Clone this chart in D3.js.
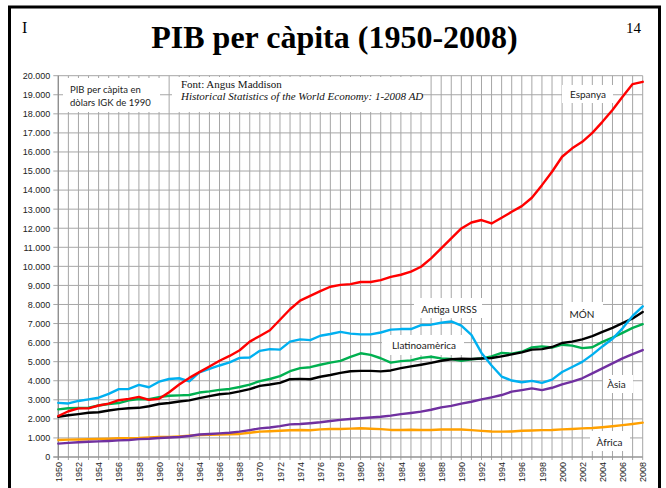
<!DOCTYPE html>
<html><head><meta charset="utf-8">
<script src="https://cdn.jsdelivr.net/npm/d3@7"></script>
<style>
html,body{margin:0;padding:0;background:#fff;}
svg{display:block;}
</style></head>
<body>
<svg id="c" width="666" height="488"></svg>
<script>
const years = d3.range(1950, 2009);
const yTicks = d3.range(0, 20001, 1000);
const xLabelYears = d3.range(1950, 2009, 2);

const espanya = [2150,2400,2550,2550,2700,2800,2980,3050,3150,3000,
 3050,3400,3800,4150,4450,4750,5050,5300,5600,6050,
 6350,6650,7200,7750,8200,8450,8700,8930,9030,9070,
 9180,9180,9280,9450,9560,9720,9980,10420,10940,11470,
 11990,12300,12430,12250,12550,12860,13160,13600,14260,14960,
 15750,16190,16530,17000,17580,18200,18900,19560,19680];
const urss = [2840,2810,2940,3020,3110,3310,3560,3570,3780,3660,
 3950,4090,4130,3970,4440,4620,4800,4960,5200,5220,
 5570,5660,5630,6050,6170,6130,6360,6450,6560,6470,
 6430,6430,6530,6680,6710,6710,6920,6940,7040,7110,
 6890,6410,5460,4800,4220,4010,3920,3990,3890,4060,
 4460,4720,4990,5370,5800,6200,6750,7400,7900];
const mon = [2110,2190,2250,2320,2350,2440,2510,2560,2580,2660,
 2780,2830,2910,2970,3090,3190,3290,3340,3440,3560,
 3730,3800,3890,4080,4100,4080,4210,4300,4410,4500,
 4520,4520,4490,4540,4660,4750,4840,4940,5050,5130,
 5150,5140,5170,5190,5280,5380,5490,5630,5660,5770,
 5980,6050,6170,6340,6560,6770,7020,7270,7610];
const llatinoamerica = [2500,2560,2570,2590,2700,2780,2830,2970,3040,3030,
 3140,3210,3230,3250,3380,3440,3520,3570,3670,3800,
 3980,4090,4240,4500,4660,4710,4840,4950,5040,5250,
 5440,5360,5180,4950,5030,5070,5200,5260,5170,5140,
 5050,5130,5170,5280,5460,5420,5520,5750,5800,5740,
 5890,5840,5710,5760,6040,6260,6510,6770,6970];
const asia = [700,740,770,800,820,840,870,890,940,960,
 1000,1020,1050,1100,1180,1210,1240,1270,1330,1410,
 1500,1550,1620,1710,1730,1770,1820,1890,1950,1990,
 2030,2070,2110,2170,2250,2310,2380,2480,2600,2680,
 2800,2900,3020,3130,3250,3430,3510,3600,3510,3630,
 3810,3950,4130,4390,4650,4910,5170,5400,5610];
const africa = [890,910,920,930,950,960,980,990,1000,1030,
 1050,1050,1080,1120,1150,1170,1180,1190,1210,1270,
 1330,1350,1380,1400,1420,1400,1450,1470,1470,1490,
 1510,1480,1460,1420,1420,1430,1420,1420,1440,1450,
 1440,1410,1370,1340,1330,1340,1380,1390,1410,1420,
 1450,1470,1500,1520,1560,1610,1670,1730,1800];

const seriesNames = ["Espanya","Antiga URSS","MÓN","Llatinoamèrica","Àsia","Àfrica"];
const seriesValues = [espanya, urss, mon, llatinoamerica, asia, africa];
const seriesColors = ["#ff0000","#00b0f0","#000000","#00b050","#7030a0","#ffa000"];

const svg = d3.select("#c");
const x = d3.scaleLinear().domain([1950, 2008]).range([58.3, 642.7]);
const y = d3.scaleLinear().domain([0, 20000]).range([457, 75.7]);

// border
svg.append("rect").attr("x", 9.5).attr("y", 7).attr("width", 650).attr("height", 500)
  .attr("fill", "#fff").attr("stroke", "#000").attr("stroke-width", 3);

// title and corner marks
svg.append("text").attr("x", 334.5).attr("y", 48).attr("text-anchor", "middle")
  .attr("font-family", "Liberation Serif, serif").attr("font-weight", "bold")
  .attr("font-size", 32).text("PIB per càpita (1950-2008)");
svg.append("text").attr("x", 22).attr("y", 33).attr("font-family", "Liberation Serif, serif")
  .attr("font-size", 16).text("I");
svg.append("text").attr("x", 641).attr("y", 33).attr("text-anchor", "end")
  .attr("font-family", "Liberation Serif, serif").attr("font-size", 15).text("14");

// grid
const grid = svg.append("g");
grid.selectAll("line.v").data(years).join("line")
  .attr("x1", d => x(d)).attr("x2", d => x(d))
  .attr("y1", y(20000)).attr("y2", y(0) + 3)
  .attr("stroke", "#a6a6a6").attr("stroke-width", 1);
grid.selectAll("line.h").data(yTicks).join("line")
  .attr("x1", x(1950) - 5).attr("x2", x(2008))
  .attr("y1", d => y(d)).attr("y2", d => y(d))
  .attr("stroke", "#a6a6a6").attr("stroke-width", 1);
svg.append("line").attr("x1", x(1950)).attr("x2", x(1950)).attr("y1", y(20000)).attr("y2", y(0) + 3)
  .attr("stroke", "#8c8c8c").attr("stroke-width", 1.2);
svg.append("line").attr("x1", x(1950) - 5).attr("x2", x(2008)).attr("y1", y(0)).attr("y2", y(0))
  .attr("stroke", "#8c8c8c").attr("stroke-width", 1.2);

// axes labels
const loc = d3.formatLocale({decimal: ",", thousands: ".", grouping: [3], currency: ["", ""]});
const fmt = loc.format(",");
const yAxis = d3.axisLeft(y).tickValues(yTicks).tickFormat(fmt).tickSize(0).tickPadding(8);
const ya = svg.append("g").attr("transform", `translate(${x(1950)},0)`).call(yAxis);
ya.select(".domain").remove();
ya.selectAll("text").attr("font-family", "Liberation Sans, Arial, sans-serif").attr("font-size", 9).attr("fill", "#222");

const xAxis = d3.axisBottom(x).tickValues(xLabelYears).tickFormat(d3.format("d")).tickSize(0).tickPadding(0);
const xa = svg.append("g").attr("transform", `translate(0,${y(0)})`).call(xAxis);
xa.select(".domain").remove();
xa.selectAll("text").attr("font-family", "Liberation Sans, Arial, sans-serif").attr("font-size", 9).attr("fill", "#222")
  .attr("transform", "rotate(-90)").attr("text-anchor", "end")
  .attr("x", -5).attr("y", 0).attr("dy", "0.35em");

// info boxes
const sans = "Lato, 'Open Sans', sans-serif";
svg.append("rect").attr("x", 63).attr("y", 78).attr("width", 97).attr("height", 34).attr("fill", "#fff");
svg.append("text").attr("x", 70).attr("y", 93).attr("font-family", sans).attr("font-size", 9.5).attr("fill", "#222").text("PIB per càpita en");
svg.append("text").attr("x", 70).attr("y", 105.5).attr("font-family", sans).attr("font-size", 9.5).attr("fill", "#222").text("dòlars IGK de 1990");
svg.append("rect").attr("x", 172).attr("y", 77).attr("width", 250).attr("height", 35).attr("fill", "#fff");
svg.append("text").attr("x", 181).attr("y", 88).attr("font-family", "Liberation Serif, serif").attr("font-size", 11).attr("fill", "#111").text("Font: Angus Maddison");
svg.append("text").attr("x", 181).attr("y", 99.5).attr("font-family", "Liberation Serif, serif").attr("font-style", "italic").attr("font-size", 11).attr("fill", "#111").text("Historical Statistics of the World Economy: 1-2008 AD");

// series label boxes
const labelBoxes = [
  {t: "Espanya", rx: 562, ry: 85, w: 51, h: 18, cx: 588, by: 98},
  {t: "Antiga URSS", rx: 414, ry: 298, w: 68, h: 20, cx: 449, by: 313},
  {t: "MÓN", rx: 563, ry: 302, w: 40, h: 21, cx: 582, by: 318},
  {t: "Llatinoamèrica", rx: 382, ry: 335, w: 82, h: 20, cx: 424, by: 348.5},
  {t: "Àsia", rx: 603, ry: 375, w: 30, h: 18, cx: 616.5, by: 388},
  {t: "Àfrica", rx: 590, ry: 431, w: 40, h: 20, cx: 609.5, by: 446}
];
const lb = svg.append("g");
labelBoxes.forEach(b => {
  lb.append("rect").attr("x", b.rx).attr("y", b.ry).attr("width", b.w).attr("height", b.h).attr("fill", "#fff");
  lb.append("text").attr("x", b.cx).attr("y", b.by).attr("text-anchor", "middle")
    .attr("font-family", sans).attr("font-size", 10).attr("fill", "#222").text(b.t);
});

// lines
const line = d3.line().x((d, i) => x(years[i])).y(d => y(d));
const order = [5, 4, 3, 2, 1, 0];
order.forEach(i => {
  svg.append("path").datum(seriesValues[i]).attr("d", line)
    .attr("fill", "none").attr("stroke", seriesColors[i]).attr("stroke-width", 2.4)
    .attr("stroke-linejoin", "round").attr("stroke-linecap", "round");
});
</script>
</body></html>
